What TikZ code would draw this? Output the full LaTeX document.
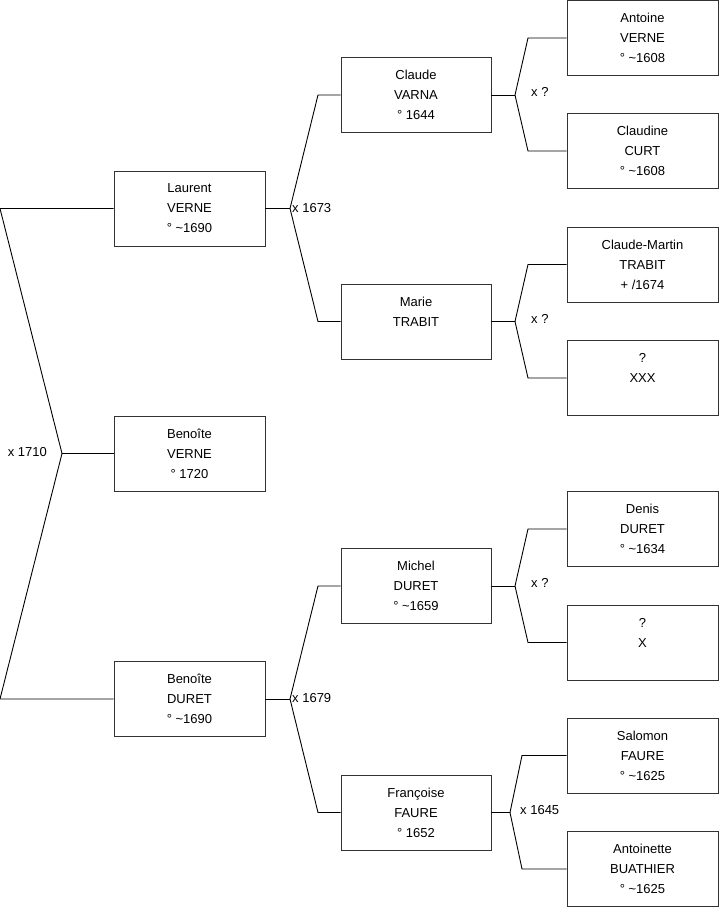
\documentclass[tikz,border=0pt]{standalone}
\usepackage{fontspec}
\setmainfont{Liberation Sans}
\begin{document}
\begin{tikzpicture}[x=1pt,y=-1pt,
  person/.style={draw=black!80, line width=0.9pt, minimum width=151pt, minimum height=75pt, inner sep=0pt, align=center, font=\fontsize{13}{20}\selectfont},
  link/.style={draw=black, line width=0.9pt},
  marr/.style={inner sep=0pt, font=\fontsize{13}{15}\selectfont}]
\useasboundingbox (0,0) rectangle (719,908);
% column 1
\node[person] (laurent) at (189.5,208.5) {Laurent\\VERNE\\° \textasciitilde1690};
\node[person] (bverne) at (189.5,453.5) {Benoîte\\VERNE\\° 1720};
\node[person] (bduret) at (189.5,699) {Benoîte\\DURET\\° \textasciitilde1690};
% column 2
\node[person,minimum width=150pt] (claude) at (416,95) {Claude\\VARNA\\° 1644};
\node[person,minimum width=150pt] (marie) at (416,321.5) {Marie\\TRABIT\\\mbox{}};
\node[person,minimum width=150pt] (michel) at (416,586) {Michel\\DURET\\° \textasciitilde1659};
\node[person,minimum width=150pt] (francoise) at (416,812.5) {Françoise\\FAURE\\° 1652};
% column 3
\node[person] (antoine) at (642.5,38) {Antoine\\VERNE\\° \textasciitilde1608};
\node[person] (claudine) at (642.5,151) {Claudine\\CURT\\° \textasciitilde1608};
\node[person] (cmartin) at (642.5,264.5) {Claude-Martin\\TRABIT\\+ /1674};
\node[person] (xxx) at (642.5,378) {?\\XXX\\\mbox{}};
\node[person] (denis) at (642.5,529) {Denis\\DURET\\° \textasciitilde1634};
\node[person] (xone) at (642.5,642.5) {?\\X\\\mbox{}};
\node[person] (salomon) at (642.5,755.5) {Salomon\\FAURE\\° \textasciitilde1625};
\node[person] (antoinette) at (642.5,869) {Antoinette\\BUATHIER\\° \textasciitilde1625};
% joints
\coordinate (a0) at (0,208.5);
\coordinate (b0) at (0,699);
\coordinate (j0) at (62,453.5);
\coordinate (j1) at (290,208.5);
\coordinate (j1u) at (318,95);
\coordinate (j1d) at (318,321.5);
\coordinate (j2) at (290,699);
\coordinate (j2u) at (318,586);
\coordinate (j2d) at (318,812.5);
\coordinate (k1) at (515,95);
\coordinate (k1u) at (528,38);
\coordinate (k1d) at (528,151);
\coordinate (k2) at (515,321.5);
\coordinate (k2u) at (528,264.5);
\coordinate (k2d) at (528,378);
\coordinate (k3) at (515,586);
\coordinate (k3u) at (528,529);
\coordinate (k3d) at (528,642.5);
\coordinate (k4) at (510,812.5);
\coordinate (k4u) at (522,755.5);
\coordinate (k4d) at (522,869);
% connectors
\draw[link] (laurent.west) -- (a0) -- (j0) -- (b0) -- (bduret.west);
\draw[link] (j0) -- (bverne.west);
\draw[link] (laurent.east) -- (j1);
\draw[link] (claude.west) -- (j1u) -- (j1) -- (j1d) -- (marie.west);
\draw[link] (bduret.east) -- (j2);
\draw[link] (michel.west) -- (j2u) -- (j2) -- (j2d) -- (francoise.west);
\draw[link] (claude.east) -- (k1);
\draw[link] (antoine.west) -- (k1u) -- (k1) -- (k1d) -- (claudine.west);
\draw[link] (marie.east) -- (k2);
\draw[link] (cmartin.west) -- (k2u) -- (k2) -- (k2d) -- (xxx.west);
\draw[link] (michel.east) -- (k3);
\draw[link] (denis.west) -- (k3u) -- (k3) -- (k3d) -- (xone.west);
\draw[link] (francoise.east) -- (k4);
\draw[link] (salomon.west) -- (k4u) -- (k4) -- (k4d) -- (antoinette.west);
% marriage labels
\node[marr, anchor=east] (m0) at (47,452) {x 1710};
\node[marr, anchor=west] (m1) at (292,208) {x 1673};
\node[marr, anchor=west] (m2) at (292,698) {x 1679};
\node[marr, anchor=west] (m3) at (531,92) {x ?};
\node[marr, anchor=west] (m4) at (531,319) {x ?};
\node[marr, anchor=west] (m5) at (531,583) {x ?};
\node[marr, anchor=west] (m6) at (520,810) {x 1645};
\end{tikzpicture}
\end{document}
